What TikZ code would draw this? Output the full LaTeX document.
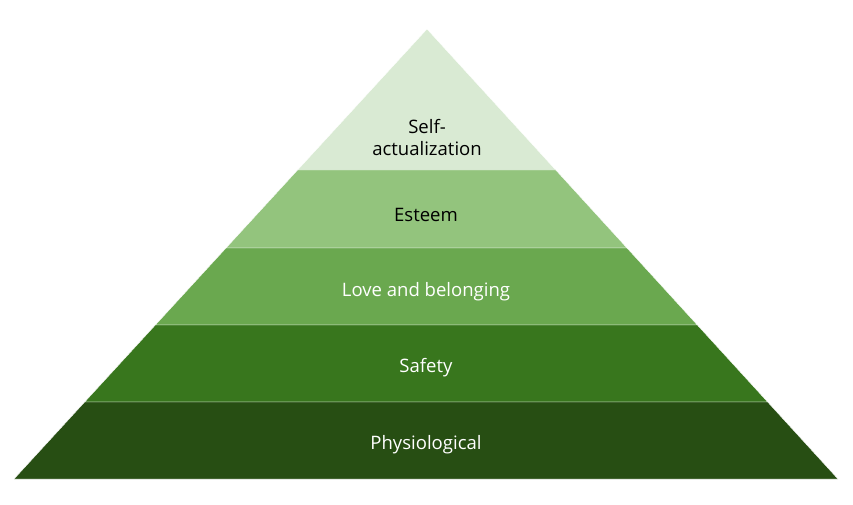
\documentclass[tikz,border=0pt]{standalone}
\usepackage{fontspec}
\setmainfont{Open Sans}
\usetikzlibrary{calc}
\definecolor{selfgreen}{HTML}{D9EAD3}
\definecolor{esteemgreen}{HTML}{93C47D}
\definecolor{lovegreen}{HTML}{6AA84F}
\definecolor{safetygreen}{HTML}{38761D}
\definecolor{physgreen}{HTML}{274E13}
\tikzset{
  layer/.style={draw=white,line width=0.3pt,line join=miter},
  levelname/.style={font=\fontsize{13.9}{16.5}\selectfont,align=center,inner sep=0pt},
}
\begin{document}
\begin{tikzpicture}[x=0.75pt,y=-0.75pt]
  \useasboundingbox (0,0) rectangle (853,504);
  \coordinate (apex) at (427,29);
  \coordinate (bl) at (14,479);
  \coordinate (br) at (838,479);
  % layer boundaries
  \coordinate (l1) at ($(apex)!0.3133!(bl)$);
  \coordinate (r1) at ($(apex)!0.3133!(br)$);
  \coordinate (l2) at ($(apex)!0.4867!(bl)$);
  \coordinate (r2) at ($(apex)!0.4867!(br)$);
  \coordinate (l3) at ($(apex)!0.6578!(bl)$);
  \coordinate (r3) at ($(apex)!0.6578!(br)$);
  \coordinate (l4) at ($(apex)!0.8289!(bl)$);
  \coordinate (r4) at ($(apex)!0.8289!(br)$);
  \path[layer,fill=selfgreen] (apex) -- (r1) -- (l1) -- cycle;
  \path[layer,fill=esteemgreen] (l1) -- (r1) -- (r2) -- (l2) -- cycle;
  \path[layer,fill=lovegreen] (l2) -- (r2) -- (r3) -- (l3) -- cycle;
  \path[layer,fill=safetygreen] (l3) -- (r3) -- (r4) -- (l4) -- cycle;
  \path[layer,fill=physgreen] (l4) -- (r4) -- (br) -- (bl) -- cycle;
  \node[levelname] (selfnode) at (427,137) {Self-\\actualization};
  \node[levelname] (esteemnode) at (426,215) {Esteem};
  \node[levelname,text=white] (lovenode) at (426,292) {Love and belonging};
  \node[levelname,text=white] (safetynode) at (426,368) {Safety};
  \node[levelname,text=white] (physnode) at (426,445) {Physiological};
\end{tikzpicture}
\end{document}
